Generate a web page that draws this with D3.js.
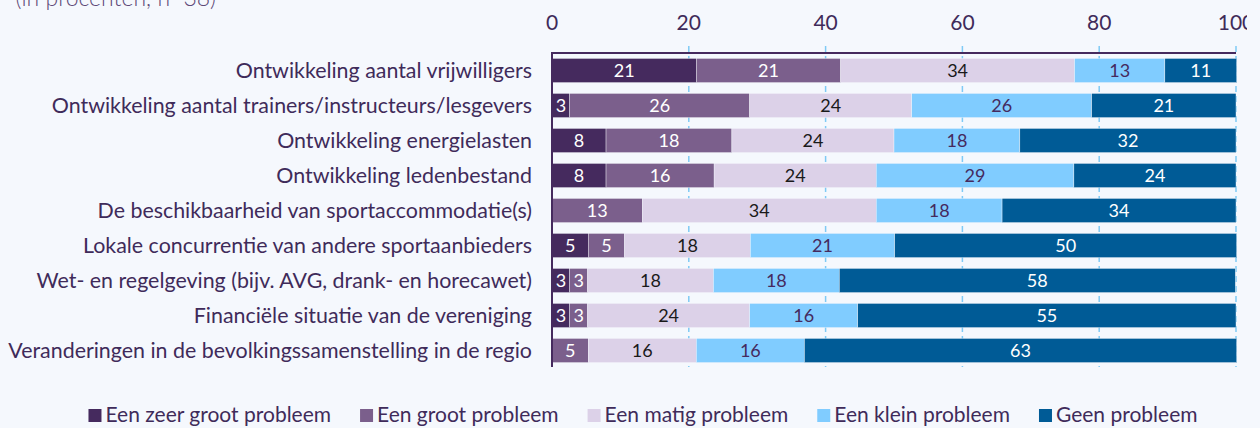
<!DOCTYPE html>
<html>
<head>
<meta charset="utf-8">
<script src="https://cdn.jsdelivr.net/npm/d3@7"></script>
<style>
  html, body { margin: 0; padding: 0; background: #f5f8fd; }
  svg { display: block; font-family: Lato, 'Open Sans', sans-serif; }
</style>
</head>
<body>
<svg id="vis" width="1260" height="428"></svg>
<script>
// categories (top to bottom)
const categories = [
    'Ontwikkeling aantal vrijwilligers',
    'Ontwikkeling aantal trainers/instructeurs/lesgevers',
    'Ontwikkeling energielasten',
    'Ontwikkeling ledenbestand',
    'De beschikbaarheid van sportaccommodatie(s)',
    'Lokale concurrentie van andere sportaanbieders',
    'Wet- en regelgeving (bijv. AVG, drank- en horecawet)',
    'Financiële situatie van de vereniging',
    'Veranderingen in de bevolkingssamenstelling in de regio'
];

const seriesNames = ['Een zeer groot probleem', 'Een groot probleem', 'Een matig probleem', 'Een klein probleem', 'Geen probleem'];

// percentages per series, same order as categories
const zeerGroot = [21.1, 2.6, 7.9, 7.9, 0, 5.3, 2.6, 2.6, 0];
const groot     = [21.1, 26.3, 18.4, 15.8, 13.2, 5.3, 2.6, 2.6, 5.3];
const matig     = [34.2, 23.7, 23.7, 23.7, 34.2, 18.4, 18.4, 23.7, 15.8];
const klein     = [13.2, 26.3, 18.4, 28.9, 18.4, 21.1, 18.4, 15.8, 15.8];
const geen      = [10.5, 21.1, 31.6, 23.7, 34.2, 50.0, 57.9, 55.3, 63.2];

const xTicks = [0, 20, 40, 60, 80, 100];

const colors = ['#452a5e', '#7b5f8c', '#dcd1e8', '#80ccff', '#005b96'];
const labelColors = ['#ffffff', '#ffffff', '#1a1a1a', '#452a5e', '#ffffff'];
const textColor = '#3f2b5a';

const svg = d3.select('#vis');
const m = { left: 552, right: 1236, top: 53, bottom: 368 };

const rows = categories.map((c, i) => {
    const r = { cat: c };
    [zeerGroot, groot, matig, klein, geen].forEach((s, k) => { r['s' + k] = s[i]; });
    return r;
});
const keys = ['s0', 's1', 's2', 's3', 's4'];
const stacked = d3.stack().keys(keys)(rows);

const x = d3.scaleLinear().domain([0, 100]).range([m.left, m.right]);
const y = d3.scaleBand().domain(categories).range([m.top, m.bottom]).paddingInner(0.31).paddingOuter(0.155);

// the original chart area stops a little before the right edge
svg.append('defs').append('clipPath')
    .attr('id', 'clip')
    .append('rect')
    .attr('x', 0).attr('y', 0)
    .attr('width', 1247).attr('height', 428);

// partial title (cut off at top in the original)
svg.append('text')
    .attr('x', 216)
    .attr('y', 6)
    .attr('text-anchor', 'end')
    .attr('font-size', '23px')
    .attr('font-weight', 300)
    .attr('fill', '#5e4a78')
    .text('(in procenten, n=38)');

// gridlines
svg.append('g')
    .selectAll('line')
    .data(xTicks.slice(1))
    .enter()
    .append('line')
    .attr('x1', d => x(d)).attr('x2', d => x(d))
    .attr('y1', m.top - 7).attr('y2', m.bottom - 1)
    .attr('stroke', '#7fcaf5')
    .attr('stroke-width', 1.5)
    .attr('stroke-dasharray', '6,4');

// tick labels
svg.append('g')
    .attr('clip-path', 'url(#clip)')
    .selectAll('text')
    .data(xTicks)
    .enter()
    .append('text')
    .attr('x', d => x(d))
    .attr('y', 30)
    .attr('text-anchor', 'middle')
    .attr('font-size', '21px')
    .attr('fill', textColor)
    .text(d => d);

// bars
const layer = svg.append('g')
    .selectAll('g')
    .data(stacked)
    .enter()
    .append('g')
    .attr('fill', (d, i) => colors[i]);

layer.selectAll('rect')
    .data(d => d)
    .enter()
    .append('rect')
    .attr('x', d => x(d[0]))
    .attr('y', d => y(d.data.cat))
    .attr('width', d => x(d[1]) - x(d[0]))
    .attr('height', y.bandwidth())
    .attr('stroke', '#f5f8fd')
    .attr('stroke-width', 0.4);

// bar labels
stacked.forEach((s, k) => {
    svg.append('g')
        .selectAll('text')
        .data(s.filter(d => d[1] - d[0] > 0))
        .enter()
        .append('text')
        .attr('x', d => x((d[0] + d[1]) / 2))
        .attr('y', d => y(d.data.cat) + y.bandwidth() / 2 + 6.5)
        .attr('text-anchor', 'middle')
        .attr('font-size', '18px')
        .attr('fill', labelColors[k])
        .text(d => d3.format('.0f')(d[1] - d[0]));
});

// axes lines
svg.append('line')
    .attr('x1', m.left - 1).attr('x2', m.right)
    .attr('y1', m.top).attr('y2', m.top)
    .attr('stroke', '#452a5e').attr('stroke-width', 2);
svg.append('line')
    .attr('x1', m.left).attr('x2', m.left)
    .attr('y1', m.top).attr('y2', m.bottom - 1)
    .attr('stroke', '#452a5e').attr('stroke-width', 2);

// category labels
svg.append('g')
    .selectAll('text')
    .data(categories)
    .enter()
    .append('text')
    .attr('x', 532)
    .attr('y', d => y(d) + y.bandwidth() / 2 + 7.5)
    .attr('text-anchor', 'end')
    .attr('font-size', '21.4px')
    .attr('fill', textColor)
    .text(d => d);

// legend
const legend = svg.append('g');
const items = legend.selectAll('g')
    .data(seriesNames)
    .enter()
    .append('g');
items.append('rect')
    .attr('width', 13).attr('height', 13)
    .attr('y', -13)
    .attr('fill', (d, i) => colors[i]);
items.append('text')
    .attr('x', 17)
    .attr('font-size', '21px')
    .attr('fill', textColor)
    .text(d => d);

let cx = 0;
const offsets = [];
items.each(function () {
    offsets.push(cx);
    cx += 17 + this.querySelector('text').getComputedTextLength() + 29;
});
const total = cx - 29;
const startX = 643 - total / 2;
items.attr('transform', (d, i) => 'translate(' + (startX + offsets[i]) + ', 422)');
</script>
</body>
</html>
